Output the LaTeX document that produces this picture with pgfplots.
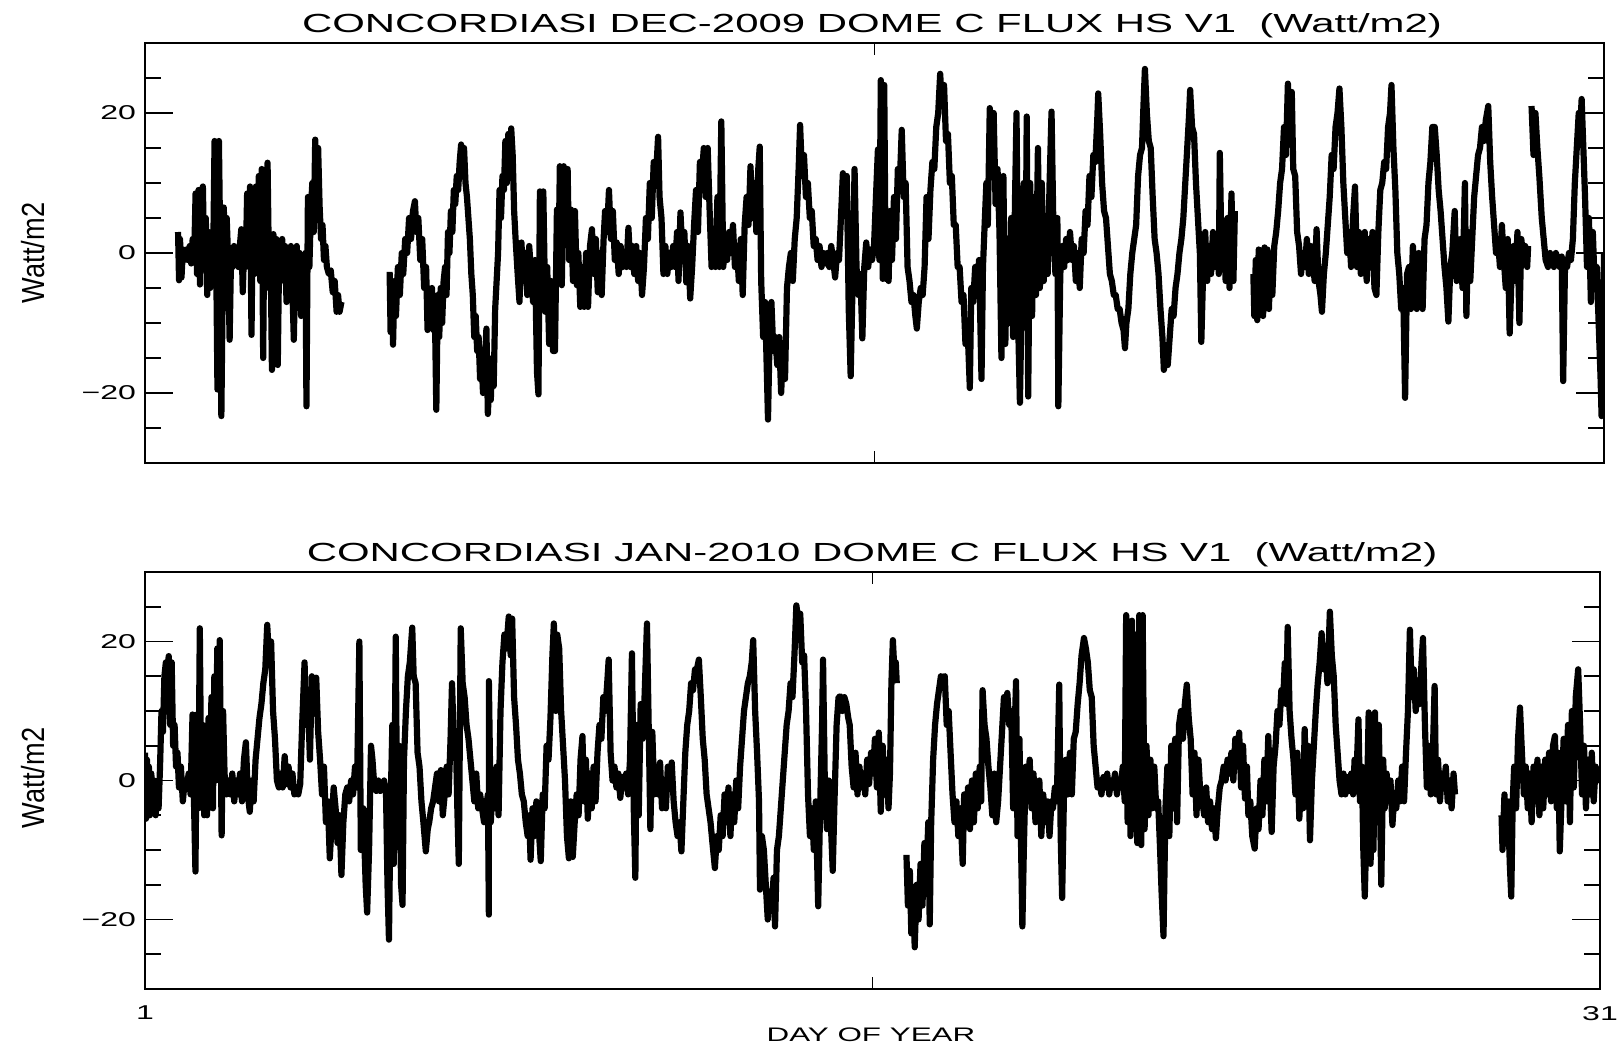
\documentclass[border=0pt]{standalone}
\usepackage{fontspec}
\setmainfont{Liberation Sans}
\newfontfamily\hfont[FakeStretch=1.6]{Liberation Sans}
\newfontfamily\vfont[FakeStretch=0.85]{Liberation Sans}
\usepackage{pgfplots}
\usepackage{pgfplotstable}
\pgfplotsset{compat=1.18}

\pgfplotstableread{
x y
1.68 3
1.70 -3.9
1.72 2
1.75 -3.5
1.78 0.5
1.81 -1
1.85 0.5
1.88 -1
1.92 1
1.95 -1.5
1.98 2
2.01 -1
2.04 8.5
2.07 -3
2.10 9
2.13 -4.5
2.16 8.5
2.19 9.5
2.22 -2
2.25 5
2.28 -6
2.31 3
2.34 -5
2.37 1
2.40 -2
2.43 16
2.46 2
2.49 -19.5
2.52 16
2.55 -1
2.57 -23.3
2.60 -3
2.62 6.5
2.65 -2.3
2.68 5
2.71 -1
2.74 -12.4
2.77 0
2.80 -2
2.83 1
2.86 -1
2.89 0
2.92 -2
2.95 1
2.98 3.4
3.01 -5.6
3.04 1
3.07 -2
3.10 8.5
3.13 -1
3.16 9.5
3.19 -11.7
3.22 9
3.25 -3
3.28 9.5
3.31 -2
3.34 11
3.37 -4
3.40 12
3.43 -15
3.46 11
3.49 -5
3.52 12.9
3.55 -3
3.58 2
3.61 -16.7
3.64 2.7
3.67 -6
3.70 2
3.73 -16
3.76 1
3.79 -4
3.82 2
3.85 -2
3.88 1
3.91 -7
3.94 0
3.97 -3
4.00 1
4.03 -5
4.06 -12.4
4.09 -2
4.12 1
4.15 -6
4.18 0
4.21 -9
4.24 -2
4.27 -5
4.30 0
4.32 -21.9
4.35 8
4.38 -2
4.41 6
4.44 10
4.47 3
4.50 16.2
4.53 8
4.56 15
4.59 6.7
4.62 2
4.65 4
4.68 -1
4.71 1
4.74 -2
4.78 -3
4.82 -2.5
4.86 -5.6
4.90 -4
4.94 -8.4
4.97 -6
5.00 -8.4
5.04 -7
5.5 nan
6.03 -2.7
6.05 -11.3
6.08 -5
6.10 -13.1
6.13 -4
6.16 -9
6.20 -2
6.24 -6
6.28 0
6.31 -3
6.35 2
6.39 0
6.43 5
6.47 2
6.51 6
6.55 7.4
6.58 3
6.62 5
6.66 -1
6.70 2
6.74 -5
6.78 -2
6.81 -11
6.84 -5.6
6.87 -10
6.90 -5
6.93 -11
6.96 -8
6.99 -22.4
7.02 -6
7.05 -12
7.08 -5
7.11 -10
7.14 -4
7.17 -2
7.20 -6
7.23 3
7.26 0
7.29 6
7.32 3
7.35 9
7.38 7
7.41 11
7.44 9
7.47 13
7.50 15.5
7.53 13
7.56 15
7.59 10
7.62 8
7.65 5
7.68 2
7.71 -3
7.74 -6
7.77 -12
7.80 -9
7.83 -14
7.86 -12
7.89 -18
7.92 -15
7.95 -20
7.98 -17
8.02 -10.8
8.05 -23
8.08 -18
8.11 -21
8.14 -15
8.17 -19
8.20 -8
8.23 -4
8.26 0
8.29 9
8.32 5
8.35 11
8.38 9
8.41 16
8.44 10
8.47 17
8.50 12
8.53 17.8
8.56 14
8.59 6
8.62 2
8.66 -2.7
8.70 -7
8.74 1.5
8.78 -4
8.82 0
8.86 -6
8.90 1
8.94 -3
8.98 -7
9.02 -1
9.06 -17
9.09 -20.2
9.12 8.8
9.15 -5
9.19 8.8
9.23 -8.4
9.27 -2
9.31 -13
9.35 -4
9.39 -14
9.43 -14
9.47 6.2
9.50 -3
9.53 12.4
9.57 -4.6
9.61 12.4
9.65 2
9.69 12
9.72 -1
9.76 6.2
9.80 -4
9.84 6
9.88 -4.6
9.91 0
9.95 -7.7
9.99 -2
10.03 -7.7
10.07 0
10.11 -7.7
10.15 1
10.19 3.4
10.23 -3
10.27 2
10.31 -5.6
10.35 0
10.39 -6
10.43 2
10.46 6
10.50 3
10.54 9
10.58 2
10.62 6
10.66 -1
10.70 1.5
10.74 -3
10.78 1
10.82 -2
10.86 0
10.90 -2
10.94 3.6
10.98 -2
11.02 1
11.06 -3
11.10 1
11.14 -4
11.18 0
11.22 -6
11.26 -2
11.30 5
11.34 2
11.38 10
11.42 5
11.46 13
11.50 10
11.55 16.6
11.58 8
11.62 5
11.66 -3
11.70 1
11.74 -3
11.78 0
11.82 -2
11.86 1
11.90 -2
11.94 3
11.97 -4
12.01 5.8
12.05 0
12.09 3
12.13 -4.2
12.17 1
12.21 -6.5
12.25 -2
12.29 4
12.33 9
12.37 3
12.41 13
12.45 11
12.49 15
12.53 8
12.57 15
12.61 6
12.65 -2
12.69 3
12.73 -2
12.77 8
12.81 -2
12.85 18.8
12.89 -2
12.93 2
12.97 -1
13.01 3
13.05 0
13.09 4
13.13 -2
13.17 1
13.21 -4
13.25 2
13.29 -6
13.33 4
13.37 8
13.41 4
13.45 12.4
13.49 5
13.53 10
13.57 3
13.61 12
13.64 15.2
13.67 -4
13.71 -12
13.75 -7
13.79 -18
13.81 -23.8
13.84 -13
13.88 -7
13.92 -14
13.96 -12
14.00 -16
14.04 -12
14.08 -20
14.12 -14
14.16 -18
14.20 -5
14.24 -2
14.28 0
14.32 -4
14.36 2
14.40 5
14.44 12
14.47 18.3
14.51 11
14.55 14
14.59 8
14.63 10
14.67 5
14.71 6
14.75 1
14.79 2
14.83 -1
14.87 1
14.91 -2
14.95 0
14.99 -1.5
15.03 0
15.07 -2
15.11 1
15.15 -1
15.19 -3.5
15.23 0
15.27 -1
15.31 5
15.35 11.4
15.39 6
15.43 11
15.47 -8
15.51 -17.6
15.55 -4
15.59 12
15.63 -2
15.67 -6
15.71 -3
15.75 -12.2
15.79 -2
15.83 1.5
15.87 -2
15.91 0.5
15.95 -1
15.99 1
16.03 8
16.07 14.8
16.10 -1
16.13 24.7
16.17 -3.7
16.20 24
16.23 -3.7
16.26 3
16.29 -4
16.32 6
16.36 -1
16.40 8
16.44 2
16.48 12
16.52 10
16.56 17.6
16.60 8
16.64 10
16.68 -2
16.72 -4
16.76 -7
16.80 -6
16.84 -9
16.87 -10.8
16.91 -7
16.95 -5
16.99 -6
17.03 -2
17.07 8
17.11 2
17.15 9
17.19 13
17.23 12
17.27 18
17.31 20
17.35 25.6
17.39 21
17.43 24
17.47 16
17.51 17
17.55 10
17.59 11
17.63 4
17.67 4
17.71 -2
17.75 -2
17.79 -7
17.83 -6
17.87 -13
17.91 -10
17.96 -19.3
17.99 -5
18.03 -7
18.07 -2
18.11 -5
18.15 -1
18.20 -18
18.23 -2
18.27 5
18.30 10
18.33 4
18.37 20.7
18.41 12
18.45 20
18.49 7
18.53 12
18.57 3
18.61 -15
18.65 11
18.69 -13
18.73 2
18.77 -10
18.81 5
18.85 -12
18.89 8
18.92 20
18.96 -12
18.99 -21.4
19.03 -5
19.07 10
19.10 -10
19.13 19.5
19.16 -20.5
19.20 10
19.24 -9
19.28 8
19.32 -6
19.36 15
19.40 -5
19.44 10
19.48 -4
19.52 4
19.56 -3
19.60 10
19.64 20.2
19.68 3
19.72 -3
19.76 5
19.78 -21.9
19.82 -3
19.86 1
19.90 -2
19.94 2
19.98 -1
20.02 3
20.06 -1
20.10 1
20.14 -4
20.18 0
20.22 -5
20.26 2
20.30 0
20.34 6
20.38 4
20.42 11
20.46 8
20.50 14
20.54 13
20.58 19
20.60 22.8
20.64 17
20.68 10
20.72 6
20.76 5
20.80 1
20.84 -3
20.88 -4
20.92 -6
20.96 -6
21.00 -8
21.04 -8
21.08 -10
21.12 -11
21.15 -13.6
21.18 -10
21.22 -8
21.26 -3
21.30 0
21.34 2
21.38 4
21.42 11
21.46 14
21.50 15
21.53 21
21.56 26.3
21.60 20
21.64 16
21.68 15
21.72 8
21.76 2
21.80 0
21.84 -3
21.88 -8
21.92 -12
21.95 -16.7
21.99 -14
22.03 -16
22.07 -12
22.11 -8
22.15 -9
22.19 -5
22.23 -3
22.27 0
22.31 2
22.35 5
22.39 10
22.43 15
22.47 20
22.49 23.3
22.53 18
22.57 17
22.61 10
22.65 5
22.69 0
22.72 -12.7
22.76 -2
22.80 3
22.84 -4
22.88 1
22.92 -3
22.96 3
23.00 -2
23.04 2
23.08 -3
23.10 14.3
23.14 -2
23.18 4
23.22 -4
23.26 5
23.30 -5
23.34 8.5
23.38 -4
23.41 6
23.6 nan
23.79 -3
23.81 -9
23.84 -1
23.87 -9.6
23.90 0.5
23.93 -8
23.96 0
23.99 -9
24.02 0.8
24.05 -7
24.08 0.5
24.11 -8
24.14 -1
24.18 -6
24.22 1
24.26 3
24.30 6
24.34 10
24.38 12
24.42 18
24.46 14
24.50 24.2
24.54 18
24.58 23
24.61 12
24.65 11
24.69 3
24.73 1
24.77 -3
24.81 0
24.85 -2
24.89 2
24.93 -3
24.97 1
25.01 -1
25.05 -4
25.09 3.4
25.13 -4
25.17 -6
25.20 -8.4
25.24 -3
25.28 0
25.32 4
25.36 8
25.40 14
25.44 12
25.48 18
25.52 20
25.56 23.5
25.60 18
25.64 10
25.68 5
25.72 0
25.76 3
25.80 -2
25.84 5
25.88 9.5
25.92 -2
25.96 3
26.00 -3
26.04 0
26.08 3
26.12 -4
26.16 2
26.20 -2
26.24 3
26.28 -5
26.32 -6
26.36 3
26.40 9
26.44 10
26.48 13
26.52 12
26.56 18
26.60 20
26.63 24
26.67 15
26.71 9
26.75 0
26.79 -3
26.83 -8
26.87 -5
26.91 -20.7
26.95 -3
26.99 -2
27.03 -8
27.07 1
27.11 -4
27.15 -8
27.19 0
27.23 -4
27.27 -8
27.31 2
27.35 4
27.39 10
27.43 13
27.47 18
27.52 18
27.56 14
27.60 9
27.64 6
27.68 2
27.72 -2
27.76 -5
27.80 -9.8
27.84 -2
27.88 0
27.93 6
27.97 -4
28.01 -3
28.05 2
28.09 -5
28.14 10
28.17 -9
28.21 3
28.25 -4
28.29 2
28.33 8
28.37 11
28.41 14
28.45 15
28.49 18
28.53 16
28.57 19
28.62 21
28.66 13
28.70 8
28.74 4
28.78 0
28.82 2
28.86 -2
28.90 4
28.94 -1
28.98 -5
29.02 2
29.06 -11.5
29.10 -3
29.14 1
29.18 -4
29.22 3
29.26 -10
29.30 2
29.34 -1
29.38 1
29.42 -2
29.44 1
29.47 nan
29.51 21
29.55 14
29.59 20
29.63 15
29.67 11
29.72 5
29.76 2
29.80 -1
29.85 -2
29.89 0
29.93 -1
29.97 -2
30.01 0
30.05 -1
30.09 -2
30.13 -0.5
30.16 -18.3
30.20 -1
30.24 -2
30.28 0
30.32 -1
30.36 2
30.40 10
30.44 15
30.48 20
30.52 19
30.54 22
30.57 16
30.61 8
30.65 -2
30.69 5
30.73 -7
30.77 3
30.81 -5
30.85 -2
30.89 -10
30.93 -18
30.95 -23.3
30.98 -12
31.00 0
}\decdata

\pgfplotstableread{
x y
1.00 4
1.02 -5.5
1.04 3
1.06 -4
1.08 2
1.10 -5
1.13 1
1.16 -3
1.19 0
1.22 -5
1.25 -1
1.28 -4
1.31 2
1.34 10
1.37 7
1.40 15
1.43 17
1.46 16
1.49 17.9
1.52 8
1.55 17
1.58 5
1.61 8
1.64 2
1.67 4
1.70 -1
1.74 2
1.78 -3
1.82 0
1.86 -1
1.90 1
1.94 -2
1.98 9.5
2.01 -3
2.04 -13.1
2.07 9.5
2.10 -4
2.13 21.9
2.16 -2
2.19 8
2.22 -5
2.25 2
2.28 -5
2.31 9
2.34 0
2.37 12
2.40 -4
2.43 15
2.46 0
2.49 19
2.52 3
2.54 20.2
2.58 -7.9
2.61 10
2.64 1
2.68 -2
2.72 0
2.76 -2
2.80 1
2.84 -3
2.88 0
2.92 -2
2.96 1
3.00 -3
3.04 3
3.08 5.5
3.12 -2
3.16 -4.5
3.20 0
3.24 -3
3.28 3
3.32 6
3.36 9
3.40 11
3.44 14
3.48 16
3.52 22.4
3.56 17
3.60 20
3.64 10
3.68 6
3.72 0
3.76 -1
3.80 1
3.84 -1
3.88 3.5
3.92 -0.5
3.96 2
4.00 -1
4.04 1
4.08 -2
4.12 -1
4.16 -2
4.20 -0.5
4.24 8
4.29 17
4.32 8
4.36 12
4.40 3
4.44 15
4.48 10
4.53 14.8
4.57 7
4.61 3
4.65 -2
4.69 2
4.73 -6
4.77 -3
4.81 -11.2
4.85 -6
4.89 -1
4.93 -4
4.97 -9
5.01 -5
5.05 -13.6
5.09 -6
5.13 -2
5.17 -1
5.21 -3
5.25 0
5.29 -2
5.33 2
5.37 -1
5.42 20
5.45 -10
5.50 -4
5.55 -15
5.58 -19
5.62 -10
5.66 5
5.69 3
5.73 -1
5.77 -1.5
5.81 0
5.85 -1.5
5.89 -1
5.93 0
5.97 -2
6.00 -15
6.03 -22.9
6.06 -5
6.10 8
6.13 -12
6.17 20.7
6.20 -8
6.24 5
6.28 -15
6.31 -17.9
6.34 3
6.38 10
6.42 15
6.46 17
6.51 22
6.54 15
6.58 14
6.62 4
6.66 2
6.70 -3
6.74 -6
6.79 -10.2
6.83 -7
6.86 -6
6.90 -4
6.94 -3
6.98 -1
7.02 1
7.06 -3
7.10 1.5
7.14 -5
7.18 -2
7.22 2
7.26 -2
7.30 6
7.33 14
7.37 5
7.41 6
7.44 -4
7.47 -12
7.51 21.9
7.55 14
7.59 12
7.63 8
7.67 6
7.71 3
7.75 0
7.79 -3
7.83 1
7.87 -4
7.91 -2
7.95 -4
7.99 -6
8.03 -4
8.07 -2
8.09 -19.3
8.09 14.3
8.13 -6
8.17 0
8.21 -4
8.25 2
8.29 -5
8.33 10
8.37 17
8.41 21
8.45 19
8.50 23.6
8.54 18
8.57 23.3
8.61 12
8.65 8
8.69 3
8.73 1
8.77 -2
8.81 -3
8.85 -6
8.89 -8
8.92 -5
8.95 -11.4
8.99 -4
9.03 -8
9.07 -3
9.11 -6
9.16 -11.6
9.20 -2
9.24 -4
9.28 5
9.32 3
9.36 9
9.40 18
9.43 22.6
9.47 10
9.50 21
9.54 19
9.58 10
9.62 5
9.66 0
9.70 -8
9.74 -11.2
9.78 -3
9.82 -11
9.86 -6
9.90 -2
9.94 -5
9.98 3
10.02 6.4
10.05 -3
10.09 3
10.13 -5.5
10.17 1
10.21 -4
10.25 2
10.29 -3
10.33 4
10.37 8
10.41 6
10.45 12
10.49 10
10.53 14
10.56 17.4
10.60 4
10.64 0
10.68 2
10.72 -1
10.76 1
10.80 -2.5
10.84 0.5
10.88 -1
10.92 1
10.96 -2
11.00 3
11.04 18.3
11.08 -5
11.11 -14
11.14 8
11.18 -5
11.22 11
11.26 6
11.30 12
11.35 22.6
11.38 10
11.42 -7
11.46 7
11.50 -2
11.54 2
11.58 -2
11.62 2.6
11.66 -4
11.70 0
11.74 -4
11.78 2
11.82 -1
11.86 2.6
11.90 -3
11.94 -6
11.98 -8
12.02 -6
12.06 -10.2
12.10 -3
12.14 4
12.18 8
12.22 10
12.26 14
12.30 13
12.34 16
12.38 16
12.42 17.4
12.46 12
12.50 6
12.54 3
12.58 -2
12.62 -4
12.66 -6
12.70 -9
12.75 -12.6
12.79 -8
12.83 -10
12.87 -5
12.91 -8
12.95 -2
12.99 -6
13.03 -1
13.07 -8
13.11 -2
13.15 -6
13.19 0
13.23 -4
13.27 2
13.31 6
13.35 10
13.39 12
13.43 14
13.47 15
13.51 17
13.54 20.2
13.58 10
13.62 4
13.66 -3
13.68 -15.7
13.72 -8
13.76 -10
13.80 -15
13.84 -20
13.88 -16
13.92 -18
13.96 -14
13.99 -21
14.03 -10
14.07 -8
14.11 -4
14.15 0
14.19 4
14.23 8
14.27 10
14.31 14
14.35 12
14.39 18
14.43 25.2
14.47 23
14.51 24
14.55 17
14.59 18
14.63 10
14.67 -2
14.71 -8
14.75 -4
14.79 -10
14.83 -3
14.88 -18.1
14.92 -4
14.96 8
14.98 17.4
15.02 -2
15.06 -7
15.10 0
15.14 -6
15.18 -13
15.22 -2
15.26 8
15.30 12
15.34 12.1
15.38 10
15.42 12
15.46 11
15.50 9
15.53 8
15.57 2
15.61 -1
15.65 4
15.69 -2
15.73 2
15.77 -1
15.81 1
15.85 -2
15.89 3
15.93 -0.5
15.97 4
16.01 1
16.05 6
16.09 -1
16.13 6.9
16.17 -4.5
16.21 5
16.25 -2
16.29 3
16.33 -4
16.36 1
16.39 14
16.42 20.2
16.45 16
16.48 17
16.50 14
16.6 nan
16.70 -10.7
16.73 -18
16.77 -13
16.80 -22
16.84 -16
16.87 -24
16.91 -15
16.95 -20
16.99 -12
17.03 -18
17.07 -9
17.11 -14
17.15 -6
17.18 -20.7
17.21 -6
17.25 3
17.29 8
17.33 11
17.37 13
17.41 15
17.45 14.5
17.49 15
17.53 8
17.57 10
17.61 4
17.65 -2
17.69 -6
17.73 -3
17.77 -8
17.81 -4
17.86 -12
17.89 -2
17.93 -6
17.97 -1
18.01 -7
18.05 0
18.09 -6
18.13 1
18.17 -4
18.21 2
18.24 -3
18.27 13
18.31 8
18.35 6
18.39 2
18.43 -1
18.47 -5
18.51 1
18.55 -6
18.59 -3
18.63 2
18.67 7
18.71 12
18.75 9
18.78 12.6
18.82 8
18.86 10
18.90 -4
18.93 7
18.96 14.3
18.99 -8
19.03 6
19.06 -8
19.09 -21
19.12 -10
19.16 2
19.20 -3
19.24 3
19.28 -4
19.32 1
19.36 -6
19.40 -2
19.44 0
19.48 -8
19.52 -2
19.56 -6
19.61 -3
19.65 -8
19.69 -3
19.72 -4
19.76 -1
19.80 -3
19.85 13.8
19.88 -8
19.91 -16.9
19.95 -1
19.99 3
20.03 -2
20.07 4
20.11 -2
20.15 6
20.19 7
20.23 11
20.27 14
20.31 18
20.36 20.5
20.40 19
20.44 17
20.48 13
20.52 12
20.56 5
20.60 2
20.64 -1
20.68 0
20.72 -2
20.76 0.5
20.80 -1
20.84 1
20.88 -2
20.92 0
20.96 -1
21.00 1
21.04 -2
21.08 0
21.12 -1
21.16 2
21.20 -3
21.23 23.8
21.26 -6
21.29 22
21.32 -8
21.35 23
21.38 -7
21.42 21
21.46 -9
21.50 23.8
21.54 -9.3
21.57 23.8
21.61 -7
21.65 5
21.69 -5
21.73 3
21.77 -4
21.81 2
21.85 -4
21.89 -3
21.93 -10
21.96 -16
22.00 -22.4
22.04 -4
22.08 2
22.12 -8
22.16 5
22.20 -4
22.24 6
22.28 -6
22.32 8
22.36 10
22.40 6
22.44 11
22.48 13.8
22.52 9
22.56 6
22.60 -2
22.64 4
22.68 -5
22.72 3
22.76 -2
22.80 -3
22.84 -5
22.88 -1
22.92 -6
22.96 -3
23.00 -7
23.04 -4
23.08 -8.3
23.12 -4
23.16 -1
23.20 0
23.24 2
23.28 0
23.32 3
23.36 1
23.40 4
23.44 0
23.48 6
23.52 2
23.56 6.9
23.60 -1
23.64 5
23.68 -2.6
23.72 2
23.75 -5
23.79 -3
23.83 -8
23.88 -9.8
23.92 -4
23.96 -7
24.00 0
24.04 -5
24.08 3
24.12 -3
24.16 6.4
24.20 -2
24.23 -7.4
24.27 2
24.31 5
24.35 10
24.39 8
24.43 13
24.47 12
24.50 16.9
24.53 11
24.56 22.1
24.60 10
24.64 6
24.68 3
24.72 -2
24.76 4
24.80 -5.5
24.84 0
24.88 -4
24.91 7.4
24.95 -2
24.98 5
25.02 -8.6
25.06 0
25.10 5
25.14 10
25.18 14
25.22 17
25.26 21.2
25.30 16
25.34 19
25.38 14
25.43 24.3
25.47 18
25.51 15
25.55 8
25.59 4
25.63 0
25.67 -2
25.71 1
25.75 -2
25.79 0.5
25.83 -1.5
25.87 1
25.91 -2
25.94 3
25.98 1
26.02 8.8
26.05 -3
26.09 2
26.12 -10
26.15 -16.7
26.19 -5
26.23 9.8
26.27 -12
26.30 8
26.33 -10
26.36 9.8
26.40 -6
26.44 8
26.49 -15
26.53 3
26.56 -4
26.60 1
26.64 -3
26.68 0
26.72 -6.4
26.76 -2
26.80 -4
26.84 0
26.88 -3
26.92 2
26.96 -3
27.00 4
27.04 10
27.08 21.7
27.12 12
27.16 16
27.20 10
27.24 14
27.28 11
27.32 17
27.35 20.5
27.39 8
27.43 -1
27.47 5
27.51 -2
27.55 3
27.59 13.6
27.62 -2
27.66 3
27.70 -3
27.74 1
27.78 -1
27.82 2
27.86 -3
27.90 0
27.94 -4
27.98 1
28.01 -2
28.5 nan
28.97 -5
28.99 -10
29.03 -2
29.07 -8
29.10 -3
29.14 -12
29.17 -16.7
29.20 -3
29.23 2
29.27 -4
29.31 6
29.35 10.5
29.39 4
29.43 -2
29.47 2
29.51 -4
29.55 1
29.59 -6
29.63 2
29.67 -3
29.71 3
29.75 -5
29.79 2
29.83 -4
29.87 3
29.91 -2
29.95 4
29.99 -3
30.03 5
30.07 6.4
30.11 -4
30.14 4
30.17 -10.2
30.21 -2
30.25 6
30.29 -3
30.34 8
30.38 -6
30.42 10
30.46 -1
30.50 12
30.55 16
30.59 8
30.63 -2
30.67 5
30.71 -4
30.75 3
30.79 -2
30.83 4
30.87 -3
30.91 2
30.95 0
31.00 1
}\jandata

\pgfplotsset{
  panel/.style={
    scale only axis,
    xmin=1, xmax=31, ymin=-30, ymax=30,
    xtick={1,16,31},
    ytick={-20,0,20},
    yticklabels={−20,0,20},
    minor ytick={-25,-15,-10,-5,5,10,15,25},
    major tick length=14pt,
    minor tick length=8pt,
    xtick style={/pgfplots/major tick length=6pt},
    tick style={line width=0.8pt, black},
    minor tick style={line width=0.8pt, black},
    axis line style={line width=1pt},
    yticklabel style={font=\hfont\fontsize{10}{11}\selectfont, xshift=-1pt},
    xticklabel style={font=\hfont\fontsize{10}{11}\selectfont, yshift=-5pt},
    /pgf/number format/assume math mode=true,
    unbounded coords=jump,
    clip=true,
  },
  flux/.style={black, line width=3.1pt, line join=round, no markers},
}

\begin{document}
\begin{tikzpicture}
\useasboundingbox (0,0) rectangle (811pt,525pt);
\begin{axis}[panel, at={(72.5pt,293.5pt)}, anchor=south west,
  width=729.5pt, height=210pt, xticklabels={}]
\addplot[flux] table[x=x,y=y] {\decdata};
\end{axis}
\begin{axis}[panel, at={(72.5pt,30.5pt)}, anchor=south west,
  width=727.5pt, height=208.5pt, xticklabels={1,,31}]
\addplot[flux] table[x=x,y=y] {\jandata};
\end{axis}
\node[font=\hfont\fontsize{13.1}{15}\selectfont] at (436pt,512pt)
  {CONCORDIASI DEC-2009 DOME C FLUX HS V1 \ (Watt/m2)};
\node[font=\hfont\fontsize{13.1}{15}\selectfont] at (436pt,247.5pt)
  {CONCORDIASI JAN-2010 DOME C FLUX HS V1 \ (Watt/m2)};
\node[font=\vfont\fontsize{16}{17}\selectfont, rotate=90] at (16.5pt,398.5pt) {Watt/m2};
\node[font=\vfont\fontsize{16}{17}\selectfont, rotate=90] at (16.5pt,136pt) {Watt/m2};
\node[font=\hfont\fontsize{9.8}{11}\selectfont] at (435.5pt,7.5pt) {DAY OF YEAR};
\end{tikzpicture}
\end{document}
